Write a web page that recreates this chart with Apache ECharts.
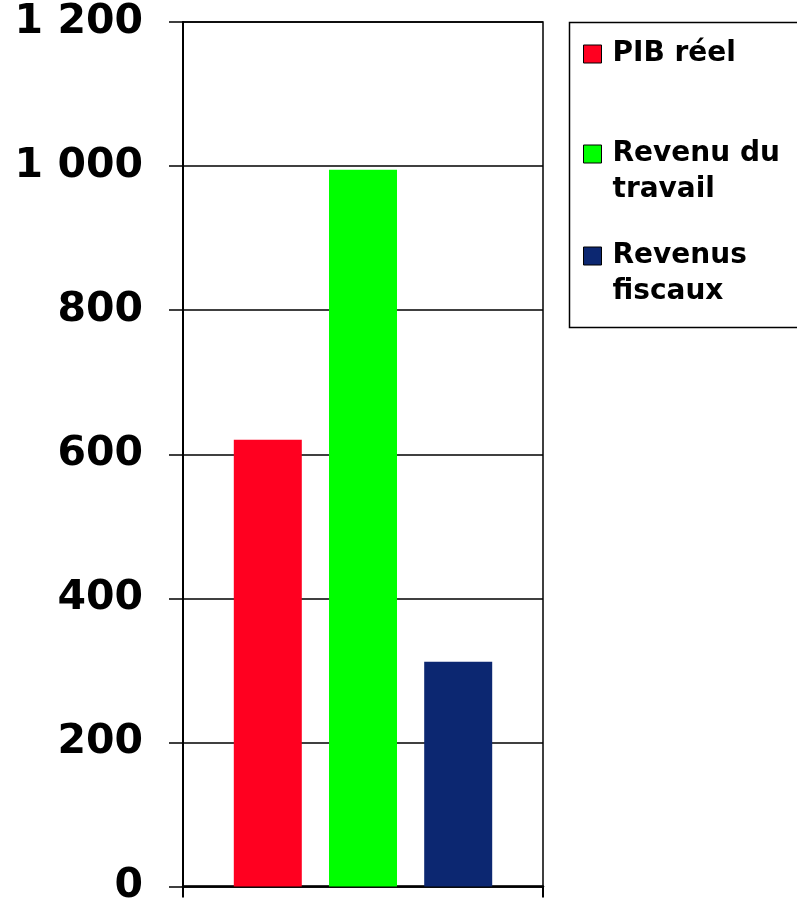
<!DOCTYPE html>
<html>
<head>
<meta charset="utf-8">
<script src="https://cdn.jsdelivr.net/npm/echarts@6/dist/echarts.min.js"></script>
<style>
  html, body { margin: 0; padding: 0; background: #fff; }
  #chart { width: 797px; height: 907px; }
</style>
</head>
<body>
<div id="chart"></div>
<script>
const categories = ['']
const seriesNames = ['PIB réel', 'Revenu du\ntravail', 'Revenus\nfiscaux']
const seriesValues = [620, 995, 312]
const seriesColors = ['#ff0020', '#00ff00', '#0c2771']
const yTicks = { min: 0, max: 1200, interval: 200 }

const chart = echarts.init(document.getElementById('chart'))

const fmt = v => String(v).replace(/\B(?=(\d{3})+(?!\d))/g, ' ')

// one legend per item so every icon sits next to the first line of its name
const legendTops = [36, 100, 202]
const legends = seriesNames.map((name, i) => ({
  orient: 'vertical',
  left: 583,
  top: legendTops[i],
  padding: 0,
  icon: 'rect',
  itemWidth: 18,
  itemHeight: 18,
  itemStyle: { borderColor: '#000', borderWidth: 1 },
  selectedMode: false,
  data: [name],
  // an empty first line pushes the 2-line names down so line 1 is level with the icon
  formatter: n => (n.indexOf('\n') >= 0 ? ' \n' + n : n),
  textStyle: {
    color: '#000',
    fontSize: 28,
    fontWeight: 'bold',
    fontFamily: 'DejaVu Sans',
    lineHeight: 36,
    padding: [0, 0, 0, 6]
  }
}))

const option = {
  backgroundColor: '#fff',
  animation: false,
  grid: {
    left: 183,
    right: 254,
    top: 22,
    bottom: 18,
    show: true,
    borderColor: '#000',
    borderWidth: 1.5
  },
  legend: legends,
  graphic: [{
    type: 'rect',
    left: 567,
    top: 20,
    shape: { width: 250, height: 305 },
    style: { fill: 'none', stroke: '#000', lineWidth: 1.5 }
  }],
  xAxis: {
    type: 'category',
    data: categories,
    axisLine: { lineStyle: { color: '#000', width: 2.5 } },
    axisTick: { show: true, length: 11, lineStyle: { color: '#000', width: 2 } },
    axisLabel: { show: false }
  },
  yAxis: {
    type: 'value',
    min: yTicks.min,
    max: yTicks.max,
    interval: yTicks.interval,
    axisLine: { show: true, lineStyle: { color: '#000', width: 2 } },
    axisTick: { show: true, length: 14, lineStyle: { color: '#000', width: 1.5 } },
    splitLine: { lineStyle: { color: '#000', width: 1.5 } },
    axisLabel: {
      margin: 40,
      color: '#000',
      fontSize: 41,
      fontWeight: 'bold',
      fontFamily: 'DejaVu Sans',
      padding: [4, 0, 0, 0],
      formatter: fmt
    }
  },
  series: seriesNames.map((name, i) => ({
    name: name,
    type: 'bar',
    barWidth: 68,
    barGap: '40%',
    itemStyle: { color: seriesColors[i] },
    data: [seriesValues[i]]
  }))
}

chart.setOption(option)
</script>
</body>
</html>
